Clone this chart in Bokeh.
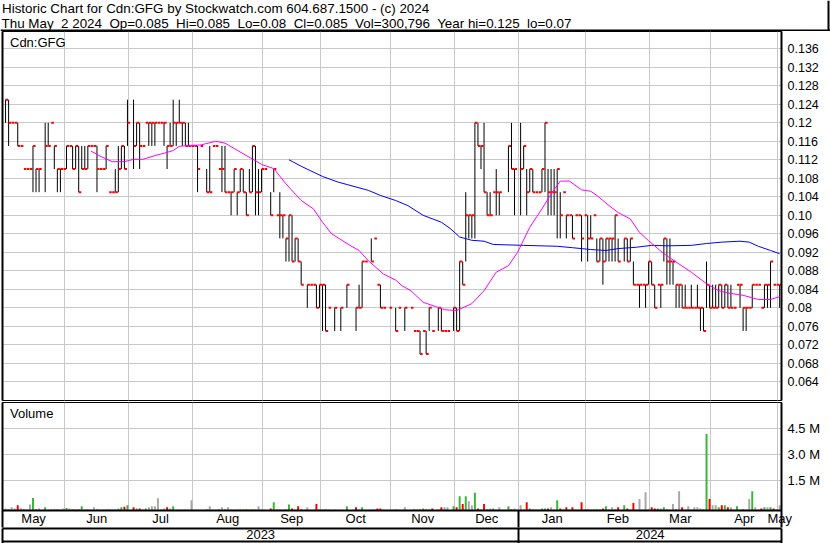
from bokeh.plotting import figure
from bokeh.models import Range1d, LinearAxis, FixedTicker, Label, Span, ColumnDataSource, Grid
from bokeh.layouts import column
from bokeh.embed import file_html
from bokeh.resources import INLINE

FONT = "Liberation Sans"

TITLE1 = "Historic Chart for Cdn:GFG by Stockwatch.com 604.687.1500 - (c) 2024"
TITLE2 = ("Thu May\u00a0 2 2024\u00a0 Op=0.085\u00a0 Hi=0.085\u00a0 Lo=0.08\u00a0 Cl=0.085\u00a0 "
          "Vol=300,796\u00a0 Year hi=0.125\u00a0 lo=0.07")
SYMBOL = "Cdn:GFG"

# daily high / low / close, in thousandths of a dollar (None = no trade)
hi_mil = [125, 125, 120, 120, 120, 115, 110, 110, 110, 115,
          110, 110, None, 120, 120, 120, 115, 110, 110, 110,
          115, 115, 115, 115, 115, 115, 115, 115, 115, 115,
          115, 110, 110, 115, 105, 105, 110, 115, 115, 115,
          125, None, 125, 120, 120, 115, 120, 120, 120, 120,
          120, 120, 120, 115, 120, 125, 120, 125, 120, 120,
          120, 115, 115, 115, 115, None, 110, 115, 115, 115,
          110, 115, 115, 105, 105, 110, 105, 110, 110, 105,
          110, 115, 115, 110, 110, 110, None, 105, 110, 100,
          105, 100, 95, 100, 100, 95, 95, 90, None, 85,
          85, 85, 85, 85, 85, 85, 80, None, 80, None,
          80, None, 85, None, None, 80, 85, 90, 90, None,
          95, 95, 85, 85, 80, None, 80, None, 80, 80,
          None, 80, None, 80, 75, 75, 75, 75, 75, 80,
          75, None, 80, 80, 75, 75, None, 80, 80, 90,
          90, 105, 100, 100, 120, 120, 115, 120, 105, 105,
          105, 110, 105, None, None, 115, 120, 110, None, 120,
          115, 110, 110, 110, 105, 105, 110, 120, 110, 110,
          110, 110, 105, 105, 100, 100, 100, 100, 100, 100,
          100, 100, 100, 100, 95, 95, 95, 95, 95, 95,
          100, 95, None, 95, 95, 95, 90, 85, 85, 85,
          85, 90, 90, 85, 85, 85, 95, 95, 95, 90,
          85, 85, 85, 85, 80, 85, 80, 85, 80, 80,
          90, 85, 85, 85, 85, 85, 85, 85, 85, 80,
          85, 85, 80, 80, 80, 85, 85, 85, 80, 85,
          85, 90, 85, 85, 85]
lo_mil = [120, 115, 120, 120, 115, 115, 110, 110, 110, 105,
          105, 105, None, 105, 115, 120, 110, 105, 105, 110,
          110, 115, 110, 110, 105, 110, 110, 110, 115, 115,
          105, 110, 110, 110, 105, 105, 105, 105, 110, 110,
          115, None, 110, 115, 110, 115, 120, 115, 115, 115,
          120, 120, 115, 110, 115, 115, 115, 120, 115, 115,
          115, 115, 115, 105, 115, None, 105, 105, 115, 115,
          110, 105, 105, 105, 100, 105, 100, 105, 105, 100,
          105, 105, 100, 100, 105, 110, None, 100, 105, 100,
          95, 95, 90, 90, 90, 90, 90, 85, None, 80,
          85, 85, 80, 80, 75, 75, 80, None, 75, None,
          75, None, 80, None, None, 75, 80, 80, 90, None,
          90, 95, 85, 80, 80, None, 80, None, 75, 80,
          None, 75, None, 80, 75, 75, 70, 75, 70, 75,
          75, None, 75, 75, 75, 75, None, 75, 75, 75,
          85, 90, 95, 95, 95, 115, 110, 105, 100, 100,
          105, 100, 100, None, None, 105, 110, 100, None, 100,
          110, 100, 105, 105, 105, 105, 105, 105, 100, 100,
          100, 95, 95, 105, 95, 100, 95, 100, 100, 90,
          100, 90, 95, 100, 90, 90, 85, 90, 90, 90,
          90, 90, None, 90, 90, 90, 85, 85, 80, 85,
          80, 85, 85, 80, 85, 80, 90, 85, 85, 85,
          80, 80, 80, 80, 80, 80, 80, 80, 75, 75,
          80, 80, 80, 80, 80, 80, 80, 80, 80, 80,
          85, 80, 75, 75, 80, 80, 85, 85, 80, 80,
          80, 80, 85, 85, 80]
cl_mil = [125, 120, 120, 120, 115, 115, 110, 110, 110, 115,
          110, 110, None, 115, 115, 120, 115, 110, 110, 110,
          115, 115, 110, 115, 105, 110, 110, 115, 115, 115,
          110, 110, 110, 115, 105, 105, 105, 110, 115, 110,
          120, None, 115, 120, 115, 115, 120, 120, 120, 120,
          120, 120, 120, 115, 115, 120, 120, 120, 120, 115,
          115, 115, 115, 110, 115, None, 105, 105, 115, 115,
          110, 110, 105, 105, 105, 110, 105, 110, 105, 100,
          105, 115, 105, 105, 110, 110, None, 100, 110, 100,
          100, 100, 95, 100, 90, 95, 90, 85, None, 85,
          85, 85, 80, 85, 85, 75, 80, None, 80, None,
          80, None, 85, None, None, 80, 80, 90, 90, None,
          90, 95, 85, 80, 80, None, 80, None, 75, 80,
          None, 80, None, 80, 75, 75, 70, 75, 70, 80,
          75, None, 80, 75, 75, 75, None, 80, 75, 90,
          85, 100, 100, 100, 120, 115, 115, 105, 100, 100,
          105, 105, 105, None, None, 115, 110, 110, None, 110,
          115, 105, 110, 105, 105, 105, 110, 120, 105, 105,
          105, 110, 100, 105, 100, 100, 95, 100, 100, 95,
          100, 95, 95, 100, 90, 95, 90, 95, 95, 95,
          100, 90, None, 95, 90, 95, 85, 85, 85, 85,
          85, 90, 85, 80, 85, 85, 95, 90, 90, 90,
          85, 85, 80, 80, 80, 80, 80, 80, 80, 75,
          85, 80, 80, 80, 85, 80, 85, 80, 80, 80,
          85, 85, 80, 80, 80, 85, 85, 85, 80, 85,
          85, 90, 85, 85, 85]
# daily volume, thousands of shares
volume_k = [115, 60, 190, 115, 300, 130, 60, 60, 350, 730,
            60, 115, 0, 190, 60, 60, 60, 60, 60, 115,
            150, 115, 60, 60, 60, 250, 60, 60, 40, 190,
            60, 60, 60, 60, 60, 60, 60, 100, 190, 210,
            310, 0, 190, 115, 115, 60, 115, 190, 250, 250,
            710, 60, 115, 190, 115, 250, 60, 40, 40, 40,
            40, 600, 60, 40, 40, 0, 60, 250, 40, 40,
            60, 190, 60, 190, 60, 40, 40, 60, 40, 60,
            40, 60, 40, 250, 40, 40, 0, 115, 480, 60,
            60, 40, 60, 350, 115, 40, 250, 60, 0, 190,
            40, 40, 380, 60, 60, 60, 40, 0, 60, 0,
            40, 0, 250, 0, 0, 190, 60, 190, 40, 0,
            60, 60, 115, 115, 40, 0, 40, 0, 60, 40,
            0, 190, 0, 40, 60, 60, 60, 115, 60, 60,
            115, 0, 60, 190, 190, 190, 0, 250, 190, 830,
            380, 830, 540, 290, 1020, 115, 60, 380, 60, 115,
            115, 60, 190, 0, 0, 250, 60, 115, 0, 310,
            60, 480, 115, 60, 60, 60, 115, 115, 115, 190,
            60, 600, 115, 60, 190, 60, 190, 60, 60, 480,
            60, 60, 60, 60, 60, 60, 115, 250, 60, 190,
            60, 190, 0, 310, 115, 60, 440, 60, 670, 60,
            1050, 60, 190, 115, 115, 115, 190, 60, 60, 380,
            60, 1110, 190, 60, 250, 60, 190, 190, 115, 60,
            4420, 670, 310, 310, 190, 310, 310, 190, 190, 60,
            250, 60, 60, 60, 670, 1110, 190, 60, 115, 190,
            190, 190, 115, 60, 300]

# moving averages (day index, price)
ma_fast_day = [28, 31, 35, 39, 42, 45, 49, 53, 55, 57, 60, 64, 69, 72, 78, 82, 84, 88, 92, 97,
               101, 104, 107, 113, 116, 119, 124, 128, 130, 133, 137, 141, 144, 148, 153, 157,
               161, 165, 168, 172, 176, 179, 182, 185, 189, 192, 194, 198, 201, 205, 208, 211,
               216, 220, 225, 230, 234, 237, 242, 247, 251, 254]
ma_fast = [.1139, .1128, .1116, .1116, .1121, .1121, .1129, .1136, .1140, .1149, .1151, .1152,
           .1160, .1156, .1133, .1118, .1110, .1101, .1068, .1032, .1014, .0985, .0960, .0935,
           .0924, .0902, .0873, .0860, .0848, .0837, .0812, .0803, .0796, .0794, .0809, .0837,
           .0877, .0891, .0920, .0974, .1014, .1046, .1074, .1074, .1055, .1052, .1043, .1021,
           .1006, .0992, .0963, .0945, .0917, .0899, .0877, .0852, .0837, .0832, .0827, .0818,
           .0818, .0824]
ma_slow_day = [93, 97, 104, 109, 114, 119, 123, 128, 132, 137, 143, 146, 149, 153, 157, 160,
               170, 181, 186, 192, 197, 201, 207, 212, 217, 225, 230, 235, 241, 244, 247, 251, 254]
ma_slow = [.1120, .1106, .1084, .1072, .1063, .1054, .1043, .1032, .1021, .1000, .0985, .0971,
           .0953, .0946, .0944, .0937, .0935, .0933, .0930, .0926, .0924, .0928, .0931, .0935,
           .0934, .0935, .0939, .0942, .0944, .0942, .0933, .0924, .0917]

month_labels = ["May", "Jun", "Jul", "Aug", "Sep", "Oct", "Nov", "Dec", "Jan", "Feb", "Mar", "Apr", "May"]
month_first_day = [0, 20, 41, 62, 85, 104, 127, 148, 169, 191, 212, 232, 254]
year_labels = ["2023", "2024"]
year_first_day = [0, 169]

price_ticks = [0.136, 0.132, 0.128, 0.124, 0.12, 0.116, 0.112, 0.108, 0.104, 0.10,
               0.096, 0.092, 0.088, 0.084, 0.08, 0.076, 0.072, 0.068, 0.064]
price_tick_labels = ["0.136", "0.132", "0.128", "0.124", "0.12", "0.116", "0.112", "0.108", "0.104", "0.10",
                     "0.096", "0.092", "0.088", "0.084", "0.08", "0.076", "0.072", "0.068", "0.064"]
vol_ticks = [1.5e6, 3.0e6, 4.5e6]
vol_tick_labels = ["1.5 M", "3.0 M", "4.5 M"]

# ---------------------------------------------------------------- derived
X_START, X_END = -1.0, 254.6
P_MIN, P_MAX = 0.05996, 0.13974
V_MIN, V_MAX = -0.22e6, 6.03e6
GRID = "#c8c8c8"

N = len(cl_mil)
days = [i for i in range(N) if cl_mil[i] is not None]
price_src = ColumnDataSource(dict(
    day=days,
    hi=[hi_mil[i] / 1000 for i in days],
    lo=[lo_mil[i] / 1000 for i in days],
    cl=[cl_mil[i] / 1000 for i in days],
    tick_end=[i + 0.85 for i in days],
))

vd, vtop, vcol = [], [], []
prev = None
for i in range(N):
    c = cl_mil[i]
    if volume_k[i] > 0:
        if prev is None or c is None or c == prev:
            col = "#a8a8a8"
        elif c > prev:
            col = "#3cb43c"
        else:
            col = "#ff0000"
        vd.append(i)
        vtop.append(V_MIN + volume_k[i] * 1000)
        vcol.append(col)
    if c is not None:
        prev = c
vol_src = ColumnDataSource(dict(day=vd, top=vtop, color=vcol))

bounds = [X_START] + [d - 0.6 for d in month_first_day[1:]] + [X_END]
month_grid = bounds[1:-1]
month_centers = [(bounds[k] + bounds[k + 1]) / 2 for k in range(len(month_labels))]
ybounds = [X_START] + [d - 0.6 for d in year_first_day[1:]] + [X_END]
year_centers = [(ybounds[k] + ybounds[k + 1]) / 2 for k in range(len(year_labels))]

xr = Range1d(X_START, X_END)


def blank_axis(width=2):
    return LinearAxis(ticker=FixedTicker(ticks=[]), axis_line_width=width, axis_line_color="black",
                      major_tick_out=0, major_tick_in=0, minor_tick_out=0, minor_tick_in=0,
                      major_label_standoff=0, major_label_text_font_size="0px")


# ---------------------------------------------------------------- header
header = figure(width=830, height=31, x_range=Range1d(0, 830), y_range=Range1d(31, 0),
                output_backend="svg", toolbar_location=None, min_border=0,
                x_axis_location=None, y_axis_location=None)
if "frame_align" in header.properties():
    header.frame_align = False
header.title.visible = False
header.outline_line_color = None
header.center = []
header.add_layout(Label(x=1.5, y=8, text=TITLE1, text_font=FONT, text_font_size="13.4px",
                        text_baseline="alphabetic", text_color="black"))
header.add_layout(Label(x=1, y=23, text=TITLE2, text_font=FONT, text_font_size="13.4px",
                        text_baseline="alphabetic", text_color="black"))
header.add_layout(Span(location=30, dimension="width", line_color="black", line_width=2))
header.add_layout(Span(location=828, dimension="height", line_color="black", line_width=2))

# ---------------------------------------------------------------- price panel
p = figure(width=830, height=370, x_range=xr, y_range=Range1d(P_MIN, P_MAX),
           output_backend="svg", toolbar_location=None,
           min_border_left=2, min_border_right=49, min_border_top=0, min_border_bottom=1,
           x_axis_location=None, y_axis_location=None)
p.title.visible = False
p.outline_line_color = "black"
p.outline_line_width = 1
p.center = []
p.add_layout(Grid(dimension=0, ticker=FixedTicker(ticks=month_grid), grid_line_color=GRID))
p.add_layout(Grid(dimension=1, ticker=FixedTicker(ticks=price_ticks), grid_line_color=GRID))

pax = LinearAxis(ticker=FixedTicker(ticks=price_ticks),
                 major_label_overrides=dict(zip(price_ticks, price_tick_labels)),
                 axis_line_width=2, axis_line_color="black",
                 major_tick_out=0, major_tick_in=0, minor_tick_out=0, minor_tick_in=0,
                 major_label_standoff=6, major_label_text_font=FONT,
                 major_label_text_font_size="12.5px", major_label_text_color="black")
p.add_layout(pax, "right")
p.add_layout(blank_axis(), "left")

p.segment(x0="day", y0="lo", x1="day", y1="hi", source=price_src, line_color="black", line_width=1)
p.segment(x0="day", y0="cl", x1="tick_end", y1="cl", source=price_src, line_color="#ff0000", line_width=2)
p.line(ma_slow_day, ma_slow, line_color="#0000ff", line_width=1)
p.line(ma_fast_day, ma_fast, line_color="#ff00ff", line_width=1)
p.add_layout(Label(x=7.5, y=358, x_units="screen", y_units="screen", text=SYMBOL, text_font=FONT,
                   text_font_size="13px", text_baseline="alphabetic", text_color="black"))

# ---------------------------------------------------------------- volume panel
v = figure(width=830, height=142, x_range=xr, y_range=Range1d(V_MIN, V_MAX),
           output_backend="svg", toolbar_location=None,
           min_border_left=2, min_border_right=49, min_border_top=1, min_border_bottom=33,
           x_axis_location=None, y_axis_location=None)
v.title.visible = False
v.outline_line_color = "black"
v.outline_line_width = 1
v.center = []
v.add_layout(Grid(dimension=0, ticker=FixedTicker(ticks=month_grid), grid_line_color=GRID))
v.add_layout(Grid(dimension=1, ticker=FixedTicker(ticks=vol_ticks), grid_line_color=GRID))

vax = LinearAxis(ticker=FixedTicker(ticks=vol_ticks),
                 major_label_overrides=dict(zip(vol_ticks, vol_tick_labels)),
                 axis_line_width=2, axis_line_color="black",
                 major_tick_out=0, major_tick_in=0, minor_tick_out=0, minor_tick_in=0,
                 major_label_standoff=6, major_label_text_font=FONT,
                 major_label_text_font_size="13px", major_label_text_color="black")
v.add_layout(vax, "right")
v.add_layout(blank_axis(), "left")

edges = [X_START, ybounds[1], X_END]
max_ = LinearAxis(ticker=FixedTicker(ticks=month_centers, minor_ticks=edges),
                  major_label_overrides=dict(zip(month_centers, month_labels)),
                  axis_line_width=2, axis_line_color="black",
                  major_tick_out=0, major_tick_in=0,
                  minor_tick_out=17, minor_tick_in=0, minor_tick_line_width=2,
                  minor_tick_line_color="black",
                  major_label_standoff=-17, major_label_text_font=FONT,
                  major_label_text_font_size="13px", major_label_text_color="black")
v.add_layout(max_, "below")
yax = LinearAxis(ticker=FixedTicker(ticks=year_centers, minor_ticks=edges),
                 major_label_overrides=dict(zip(year_centers, year_labels)),
                 axis_line_width=2, axis_line_color="black",
                 major_tick_out=0, major_tick_in=0,
                 minor_tick_out=15, minor_tick_in=0, minor_tick_line_width=2,
                 minor_tick_line_color="black",
                 major_label_standoff=-14, major_label_text_font=FONT,
                 major_label_text_font_size="13px", major_label_text_color="black")
v.add_layout(yax, "below")
v.add_layout(blank_axis(), "below")

v.vbar(x="day", bottom=V_MIN, top="top", width=0.65, source=vol_src,
       fill_color="color", line_color=None)
v.add_layout(Label(x=7.5, y=97, x_units="screen", y_units="screen", text="Volume", text_font=FONT,
                   text_font_size="13px", text_baseline="alphabetic", text_color="black"))

layout = column(header, p, v)
open("out.html", "w").write(file_html(layout, INLINE))
